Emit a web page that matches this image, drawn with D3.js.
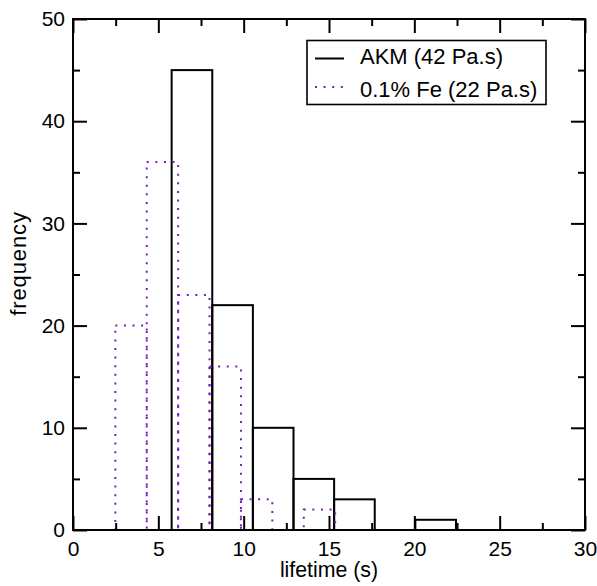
<!DOCTYPE html>
<html>
<head>
<meta charset="utf-8">
<script src="https://cdn.jsdelivr.net/npm/d3@7"></script>
<style>
  html, body { margin: 0; padding: 0; background: #fff; }
  svg { display: block; }
  text { font-family: "Liberation Sans", Arial, Helvetica, sans-serif; fill: #000; }
</style>
</head>
<body>
<svg id="chart" width="597" height="586"></svg>
<script>
// ---- data ----
const akmEdges  = [5.78, 8.16, 10.54, 12.92, 15.30, 17.68, 20.06, 22.44];
const akmCounts = [45, 22, 10, 5, 3, 0, 1];
const feEdges   = [2.48, 4.32, 6.16, 8.00, 9.84, 11.68, 13.52, 15.36];
const feCounts  = [20, 36, 23, 16, 3, 0, 2];
const seriesNames = ["AKM (42 Pa.s)", "0.1% Fe (22 Pa.s)"];
const xMajorTicks = [0, 5, 10, 15, 20, 25, 30];
const xMinorTicks = [2.5, 7.5, 12.5, 17.5, 22.5, 27.5];
const yMajorTicks = [0, 10, 20, 30, 40, 50];
const yMinorTicks = [5, 15, 25, 35, 45];
const xLabel = "lifetime (s)";
const yLabel = "frequency";

// ---- layout ----
const L = 73, R = 585, T = 19, B = 530;
const FS = 21;
const purple = "#7221bc";

const svg = d3.select("#chart");
const x = d3.scaleLinear().domain([0, 30]).range([L, R]);
const y = d3.scaleLinear().domain([0, 50]).range([B, T]);

function bins(edges, counts) {
  return counts.map((c, i) => ({ x0: edges[i], x1: edges[i + 1], c }));
}

// histogram outlines
const gA = svg.append("g");
gA.selectAll("rect").data(bins(akmEdges, akmCounts)).join("rect")
  .attr("x", d => x(d.x0)).attr("y", d => y(d.c))
  .attr("width", d => x(d.x1) - x(d.x0)).attr("height", d => y(0) - y(d.c))
  .attr("fill", "none").attr("stroke", "#000").attr("stroke-width", 2);

const gF = svg.append("g");
gF.selectAll("rect").data(bins(feEdges, feCounts)).join("rect")
  .attr("x", d => x(d.x0)).attr("y", d => y(d.c))
  .attr("width", d => x(d.x1) - x(d.x0)).attr("height", d => y(0) - y(d.c))
  .attr("fill", "none").attr("stroke", purple).attr("stroke-width", 2)
  .attr("stroke-dasharray", "2 6.6");

// axes (inward ticks on all four sides)
function styleAxis(g) {
  g.select(".domain").remove();
  g.selectAll(".tick line").attr("stroke", "#000").attr("stroke-width", 2);
  g.selectAll(".tick text").style("font-size", FS + "px").attr("fill", "#000")
    .style("font-family", '"Liberation Sans", Arial, Helvetica, sans-serif');
}
const majLen = 14, minLen = 7;

svg.append("g").attr("transform", `translate(0,${B})`)
  .call(d3.axisBottom(x).tickValues(xMajorTicks).tickSize(-majLen).tickPadding(11).tickFormat(d3.format("d")))
  .call(styleAxis);
svg.append("g").attr("transform", `translate(0,${B})`)
  .call(d3.axisBottom(x).tickValues(xMinorTicks).tickSize(-minLen).tickFormat(""))
  .call(styleAxis);
svg.append("g").attr("transform", `translate(0,${T})`)
  .call(d3.axisTop(x).tickValues(xMajorTicks).tickSize(-majLen).tickFormat(""))
  .call(styleAxis);
svg.append("g").attr("transform", `translate(0,${T})`)
  .call(d3.axisTop(x).tickValues(xMinorTicks).tickSize(-minLen).tickFormat(""))
  .call(styleAxis);

svg.append("g").attr("transform", `translate(${L},0)`)
  .call(d3.axisLeft(y).tickValues(yMajorTicks).tickSize(-majLen).tickPadding(8).tickFormat(d3.format("d")))
  .call(styleAxis);
svg.append("g").attr("transform", `translate(${L},0)`)
  .call(d3.axisLeft(y).tickValues(yMinorTicks).tickSize(-minLen).tickFormat(""))
  .call(styleAxis);
svg.append("g").attr("transform", `translate(${R},0)`)
  .call(d3.axisRight(y).tickValues(yMajorTicks).tickSize(-majLen).tickFormat(""))
  .call(styleAxis);
svg.append("g").attr("transform", `translate(${R},0)`)
  .call(d3.axisRight(y).tickValues(yMinorTicks).tickSize(-minLen).tickFormat(""))
  .call(styleAxis);

// frame
svg.append("rect").attr("x", L).attr("y", T).attr("width", R - L).attr("height", B - T)
  .attr("fill", "none").attr("stroke", "#000").attr("stroke-width", 2);

// axis labels
svg.append("text").attr("x", (L + R) / 2).attr("y", 577).attr("text-anchor", "middle")
  .style("font-size", "21.3px").text(xLabel);
svg.append("text").attr("transform", `translate(26,263.5) rotate(-90)`)
  .attr("text-anchor", "middle").style("font-size", "22px").style("letter-spacing", "0.9px")
  .text(yLabel);

// legend
const lg = svg.append("g");
lg.append("rect").attr("x", 307).attr("y", 40.5).attr("width", 239).attr("height", 64)
  .attr("fill", "#fff").attr("stroke", "#000").attr("stroke-width", 1.6);
const legendItems = [
  { name: seriesNames[0], color: "#000", dash: null, yLine: 58.5, yText: 63.5 },
  { name: seriesNames[1], color: purple, dash: "2 6.6", yLine: 87, yText: 96.7 }
];
legendItems.forEach(it => {
  lg.append("line").attr("x1", 315).attr("x2", 344).attr("y1", it.yLine).attr("y2", it.yLine)
    .attr("stroke", it.color).attr("stroke-width", 2).attr("stroke-dasharray", it.dash);
  lg.append("text").attr("x", 360).attr("y", it.yText).style("font-size", "22px").text(it.name);
});
</script>
</body>
</html>
